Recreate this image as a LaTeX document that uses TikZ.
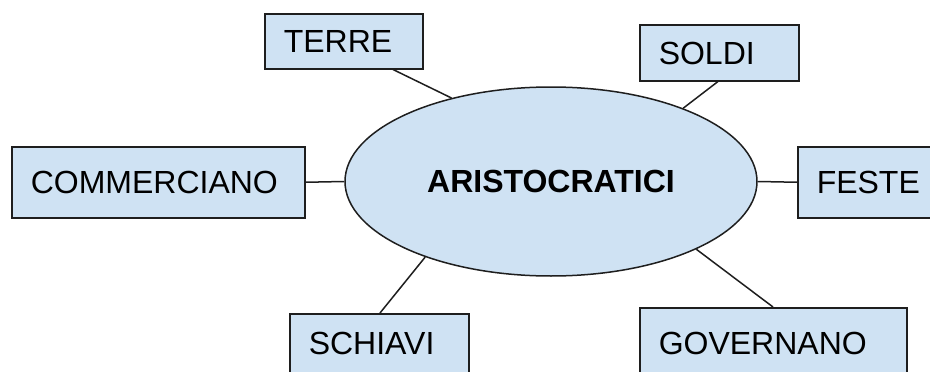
\documentclass[tikz,border=0pt]{standalone}
\usepackage{fontspec}
\setmainfont{Liberation Sans}
\usetikzlibrary{shapes.geometric}

\definecolor{boxblue}{HTML}{CFE2F3}
\definecolor{edgegray}{HTML}{1E1E1E}

\tikzset{
  box/.style={draw=edgegray, fill=boxblue, line width=1.5pt, rectangle, anchor=north west,
    align=left, inner xsep=19pt, text height=23pt, text depth=0pt,
    font=\fontsize{32}{37}\selectfont},
  link/.style={draw=edgegray, line width=1.5pt}
}

\begin{document}
\begin{tikzpicture}[x=1pt, y=-1pt]
      % Page frame
      \useasboundingbox (0,0) rectangle (930,372);
      \clip (0,0) rectangle (930,372);

      % Centre ellipse
      \node[ellipse, draw=edgegray, fill=boxblue, line width=1.5pt, inner sep=0pt,
        minimum width=412pt, minimum height=189pt,
        font=\fontsize{32}{37}\selectfont\bfseries] (aristo) at (551,181.5) {ARISTOCRATICI};

      % Boxes round it
      \node[box, text width=120pt, minimum height=55pt] (terre) at (264,13) {TERRE};
      \node[box, text width=121pt, minimum height=56pt] (soldi) at (639,24) {SOLDI};
      \node[box, text width=255pt, minimum height=71pt] (commerciano) at (11,146) {COMMERCIANO};
      \node[box, text width=140pt, minimum height=71pt] (feste) at (797,146) {FESTE};
      \node[box, text width=141pt, inner ysep=18pt, text depth=20pt] (schiavi) at (289,313) {SCHIAVI};
      \node[box, text width=229pt, inner ysep=24pt, text depth=10pt] (governano) at (639,307) {GOVERNANO};

      % Connectors
      \draw[link] ([xshift=129pt]terre.south west) -- (aristo.140);
      \draw[link] ([xshift=79pt]soldi.south west) -- (aristo.29.6);
      \draw[link] (commerciano.east) -- (aristo.west);
      \draw[link] (aristo.east) -- (feste.west);
      \draw[link] ([xshift=91pt]schiavi.north west) -- (aristo.211);
      \draw[link] ([xshift=134pt]governano.north west) -- (aristo.335.8);
    \end{tikzpicture}
\end{document}
